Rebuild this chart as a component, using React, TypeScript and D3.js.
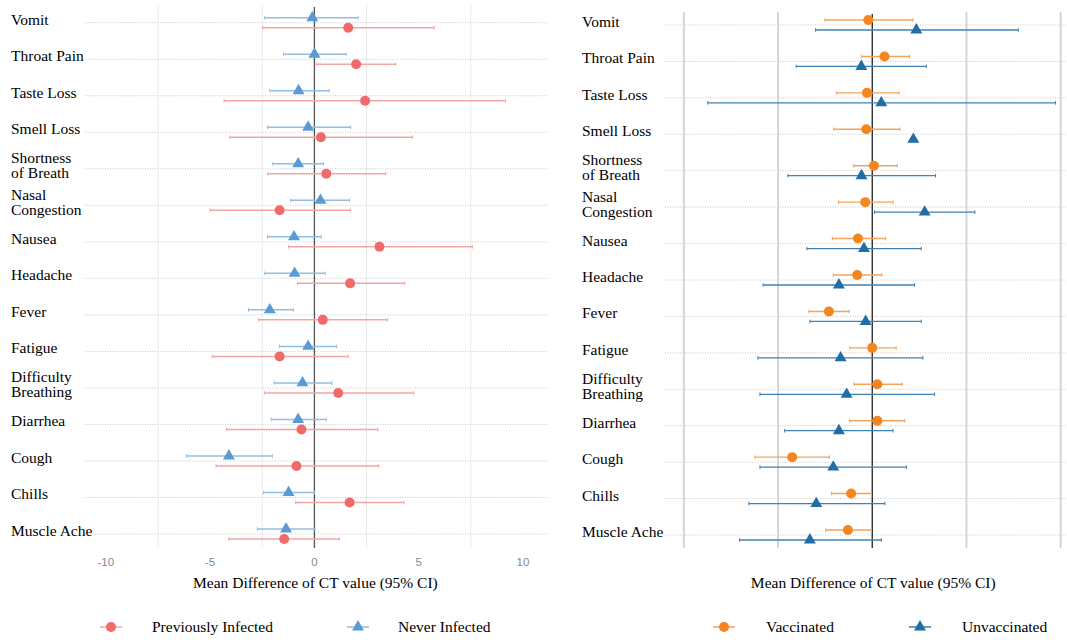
import React, { useEffect, useRef } from 'react'
import * as d3 from 'd3'

const symptoms = ['Vomit', 'Throat Pain', 'Taste Loss', 'Smell Loss', 'Shortness of Breath', 'Nasal Congestion', 'Nausea', 'Headache', 'Fever', 'Fatigue', 'Difficulty Breathing', 'Diarrhea', 'Cough', 'Chills', 'Muscle Ache']
const labelLines: Record<string, string[]> = {
  'Shortness of Breath': ['Shortness', 'of Breath'],
  'Nasal Congestion': ['Nasal', 'Congestion'],
  'Difficulty Breathing': ['Difficulty', 'Breathing'],
}

// left panel: previously vs never infected
const prevMean = [1.62, 2.0, 2.43, 0.31, 0.57, -1.67, 3.12, 1.71, 0.4, -1.67, 1.14, -0.62, -0.86, 1.69, -1.45]
const prevLow = [-2.48, 0.1, -4.33, -4.05, -2.24, -5.0, -1.24, -0.81, -2.67, -4.9, -2.4, -4.22, -4.72, -0.9, -4.1]
const prevHigh = [5.74, 3.9, 9.17, 4.71, 3.43, 1.74, 7.57, 4.33, 3.5, 1.62, 4.76, 3.05, 3.09, 4.29, 1.19]
const neverMean = [-0.1, 0.0, -0.76, -0.3, -0.78, 0.29, -0.98, -0.95, -2.14, -0.3, -0.57, -0.78, -4.1, -1.24, -1.36]
const neverLow = [-2.38, -1.48, -2.14, -2.25, -2.0, -1.14, -2.25, -2.38, -3.16, -1.67, -1.92, -2.07, -6.14, -2.45, -2.74]
const neverHigh = [2.1, 1.52, 0.71, 1.74, 0.43, 1.69, 0.33, 0.52, -1.01, 1.07, 0.84, 0.57, -2.02, 0.01, 0.03]

// right panel: vaccinated vs unvaccinated
const vaxMean = [-0.21, 0.65, -0.28, -0.32, 0.09, -0.37, -0.76, -0.8, -2.3, 0.0, 0.27, 0.27, -4.25, -1.12, -1.29]
const vaxLow = [-2.51, -0.58, -1.91, -2.04, -1.01, -1.79, -2.12, -2.07, -3.36, -1.19, -0.97, -1.2, -6.23, -2.16, -2.46]
const vaxHigh = [2.16, 1.98, 1.42, 1.47, 1.33, 1.1, 0.71, 0.51, -1.22, 1.27, 1.59, 1.73, -2.27, -0.04, -0.05]
const unvaxMean = [2.34, -0.58, 0.48, 2.18, -0.57, 2.78, -0.44, -1.77, -0.35, -1.68, -1.36, -1.77, -2.07, -2.97, -3.31]
const unvaxLow: (number | null)[] = [-3.01, -4.04, -8.73, null, -4.48, 0.12, -3.47, -5.79, -3.31, -6.07, -5.96, -4.65, -5.96, -6.55, -7.04]
const unvaxHigh: (number | null)[] = [7.75, 2.87, 9.73, null, 3.36, 5.45, 2.6, 2.25, 2.6, 2.69, 3.31, 1.1, 1.82, 0.67, 0.48]

const leftTicks = [-10, -5, 0, 5, 10]
const leftGrid = [-7.5, -2.5, 2.5, 7.5]
const rightGrid = [-10, -5, 5, 10]

const serif = '"Liberation Serif", "DejaVu Serif", serif'
const sans = '"Liberation Sans", Arial, sans-serif'

export default function App() {
  const ref = useRef<SVGSVGElement>(null)

  useEffect(() => {
    const svg = d3.select(ref.current)
    svg.selectAll('*').remove()

    const tri = d3.symbol(d3.symbolTriangle, 62)()

    const drawPanel = (opt: any) => {
      const g = svg.append('g')
      const x = d3.scaleLinear().domain(opt.domain).range(opt.range)
      const y = d3.scalePoint<string>().domain(symptoms).range(opt.yRange)

      // vertical gridlines
      g.selectAll('.grid').data(opt.grid).enter().append('line')
        .attr('x1', (d: number) => x(d)).attr('x2', (d: number) => x(d))
        .attr('y1', opt.gridTop).attr('y2', 548)
        .attr('stroke', opt.gridColor).attr('stroke-width', opt.gridWidth)

      // dotted row lines
      g.selectAll('.row').data(symptoms).enter().append('line')
        .attr('x1', opt.range[0]).attr('x2', opt.rowEnd)
        .attr('y1', d => y(d)!).attr('y2', d => y(d)!)
        .attr('stroke', '#c8c8c8').attr('stroke-width', 1).attr('stroke-dasharray', '1,1.5')

      // zero line
      g.append('line').attr('x1', x(0)).attr('x2', x(0)).attr('y1', opt.gridTop + 2).attr('y2', 548)
        .attr('stroke', opt.zeroColor).attr('stroke-width', 1.3)

      // row labels
      symptoms.forEach(s => {
        const lines = labelLines[s] || [s]
        const cy = y(s)! - 3
        const t = g.append('text').attr('x', opt.labelX).attr('font-family', serif).attr('font-size', 15.5).attr('fill', '#000')
        lines.forEach((l, i) => {
          t.append('tspan').attr('x', opt.labelX)
            .attr('y', cy + (i - (lines.length - 1) / 2) * 15 + 5)
            .text(l)
        })
      })

      // series
      opt.series.forEach((se: any) => {
        symptoms.forEach((s, i) => {
          const cy = y(s)! + se.dy
          const lo = se.low[i], hi = se.high[i]
          if (lo != null && hi != null) {
            g.append('line').attr('x1', x(lo)).attr('x2', x(hi)).attr('y1', cy).attr('y2', cy)
              .attr('stroke', se.ciColor).attr('stroke-width', se.ciWidth)
            ;[lo, hi].forEach(v => {
              g.append('line').attr('x1', x(v)).attr('x2', x(v)).attr('y1', cy - 1.8).attr('y2', cy + 1.8)
                .attr('stroke', se.ciColor).attr('stroke-width', 1)
            })
          }
        })
        symptoms.forEach((s, i) => {
          const cy = y(s)! + se.dy
          if (se.shape === 'circle') {
            g.append('circle').attr('cx', x(se.mean[i])).attr('cy', cy).attr('r', 5).attr('fill', se.color)
          } else {
            g.append('path').attr('d', tri).attr('transform', `translate(${x(se.mean[i])},${cy})`).attr('fill', se.color)
          }
        })
      })

      // legend
      opt.series.forEach((se: any) => {
        const lg = g.append('g').attr('transform', `translate(${se.legendX},627)`)
        lg.append('line').attr('x1', -11).attr('x2', 11).attr('stroke', se.ciColor).attr('stroke-width', 1.5)
        if (se.shape === 'circle') lg.append('circle').attr('r', 5).attr('fill', se.color)
        else lg.append('path').attr('d', tri).attr('fill', se.color)
        lg.append('text').attr('x', se.legendTextDx).attr('y', 5).attr('font-family', serif).attr('font-size', 15.5)
          .attr('fill', '#000').text(se.name)
      })

      // axis title
      g.append('text').attr('x', x(0) + 1).attr('y', 588).attr('text-anchor', 'middle')
        .attr('font-family', serif).attr('font-size', 15.5).attr('fill', '#000')
        .text('Mean Difference of CT value (95% CI)')

      return x
    }

    const xl = drawPanel({
      domain: [-11, 11.2], range: [85, 548], yRange: [22.7, 534], rowEnd: 548,
      grid: leftGrid, gridTop: 5, gridColor: '#ebebeb', gridWidth: 1, zeroColor: '#555',
      labelX: 11,
      series: [
        { name: 'Previously Infected', mean: prevMean, low: prevLow, high: prevHigh, dy: 5, shape: 'circle', color: '#f06a6a', ciColor: '#f3a5a5', ciWidth: 1.5, legendX: 111, legendTextDx: 41 },
        { name: 'Never Infected', mean: neverMean, low: neverLow, high: neverHigh, dy: -5, shape: 'triangle', color: '#5b9bd5', ciColor: '#93bde3', ciWidth: 1.5, legendX: 358, legendTextDx: 40 },
      ],
    })

    // left tick labels
    svg.append('g').selectAll('text').data(leftTicks).enter().append('text')
      .attr('x', d => xl(d)).attr('y', 566).attr('text-anchor', 'middle')
      .attr('font-family', sans).attr('font-size', 11.5).attr('fill', '#888')
      .text(d => String(d))

    drawPanel({
      domain: [-11, 11], range: [665, 1079.5], yRange: [25, 535], rowEnd: 1067,
      grid: rightGrid, gridTop: 12, gridColor: '#d2d2d2', gridWidth: 1.8, zeroColor: '#222',
      labelX: 582,
      series: [
        { name: 'Vaccinated', mean: vaxMean, low: vaxLow, high: vaxHigh, dy: -5, shape: 'circle', color: '#f5861f', ciColor: '#f3a35a', ciWidth: 1.4, legendX: 724, legendTextDx: 42 },
        { name: 'Unvaccinated', mean: unvaxMean, low: unvaxLow, high: unvaxHigh, dy: 5, shape: 'triangle', color: '#1f6ea6', ciColor: '#3f81b2', ciWidth: 1.3, legendX: 920, legendTextDx: 42 },
      ],
    })
  })

  return (
    <svg ref={ref} width={1067} height={640} style={{ position: 'absolute', left: 0, top: 0, background: '#fff' }} />
  )
}
